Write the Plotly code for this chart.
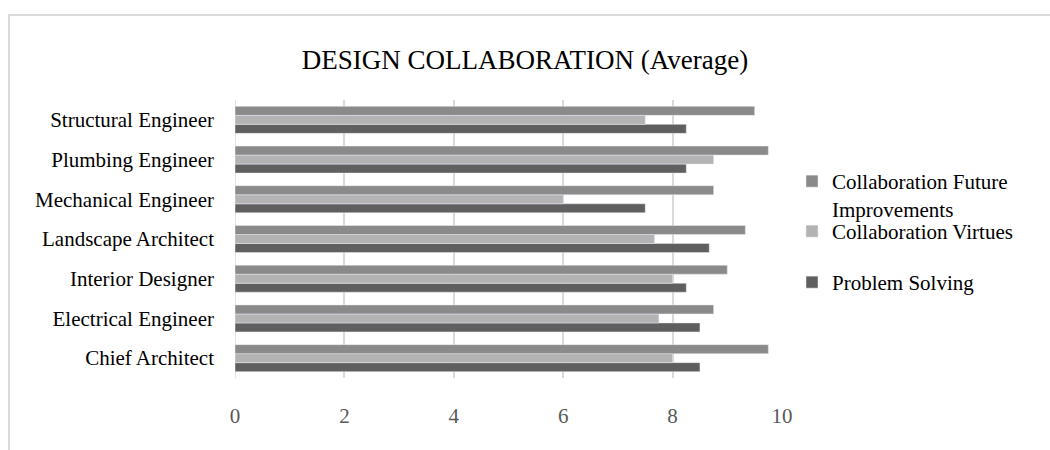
import plotly.graph_objects as go

categories = ["Chief Architect", "Electrical Engineer", "Interior Designer",
              "Landscape Architect", "Mechanical Engineer", "Plumbing Engineer",
              "Structural Engineer"]
future_improvements = [9.75, 8.75, 9.0, 9.33, 8.75, 9.75, 9.5]
collab_virtues = [8.0, 7.75, 8.0, 7.67, 6.0, 8.75, 7.5]
problem_solving = [8.5, 8.5, 8.25, 8.67, 7.5, 8.25, 8.25]
x_ticks = [0, 2, 4, 6, 8, 10]

FONT = "Liberation Serif, Times New Roman, serif"

fig = go.Figure()
fig.add_trace(go.Bar(y=categories, x=problem_solving, orientation="h",
                     name="Problem Solving", marker_color="#5f5f5f",
                     legend="legend2"))
fig.add_trace(go.Bar(y=categories, x=collab_virtues, orientation="h",
                     name="Collaboration Virtues", marker_color="#b3b3b3",
                     legend="legend3"))
fig.add_trace(go.Bar(y=categories, x=future_improvements, orientation="h",
                     name="Collaboration Future<br>Improvements", marker_color="#8a8a8a",
                     legend="legend"))

LEG_X = (792 - 235) / 547


def leg(top_px):
    return dict(x=LEG_X, xanchor="left", y=(378 - top_px) / 278, yanchor="top",
                valign="top", bgcolor="rgba(0,0,0,0)",
                font=dict(family=FONT, size=21, color="#000000"))


fig.update_layout(
    width=1050, height=450,
    margin=dict(l=235, r=268, t=100, b=72),
    paper_bgcolor="white", plot_bgcolor="white",
    barmode="group", bargap=0.32, bargroupgap=0,
    title=dict(text="DESIGN COLLABORATION (Average)", x=0.5, xref="container",
               y=1 - 60 / 450, yref="container", yanchor="middle", xanchor="center",
               font=dict(family=FONT, size=27, color="#000000")),
    font=dict(family=FONT, size=21, color="#000000"),
    xaxis=dict(range=[0, 10], tickvals=x_ticks, showgrid=True, gridcolor="#d9d9d9",
               gridwidth=1.5, zeroline=False, showline=False,
               tickfont=dict(family=FONT, size=21, color="#595959"),
               ticklabelstandoff=23),
    yaxis=dict(showgrid=False, showline=False, zeroline=False,
               tickfont=dict(family=FONT, size=21, color="#000000"),
               ticklabelstandoff=20),
    legend=leg(161),
    legend3=leg(211),
    legend2=leg(262),
    showlegend=True,
)

# vertical gridline at 0 drawn like the others
fig.add_shape(type="line", xref="x", yref="paper", x0=0, x1=0, y0=0, y1=1,
              line=dict(color="#d9d9d9", width=1.5), layer="below")

# chart-area border
fig.add_shape(type="rect", xref="paper", yref="paper",
              x0=(9 - 235) / 547, x1=(1070 - 235) / 547,
              y0=(378 - 470) / 278, y1=(378 - 15) / 278,
              line=dict(color="#d9d9d9", width=2), fillcolor="rgba(0,0,0,0)", layer="below")

fig.write_html("out.html")
